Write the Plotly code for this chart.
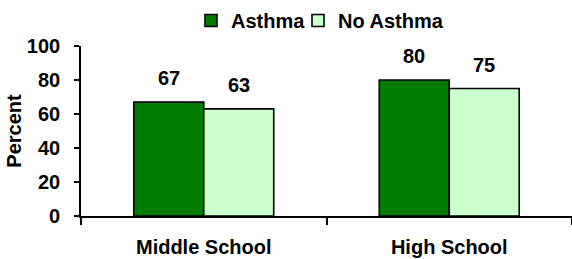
import plotly.graph_objects as go

categories = ["Middle School", "High School"]
asthma = [67, 80]
no_asthma = [63, 75]
series_names = ["Asthma", "No Asthma"]
colors = ["#007C00", "#CCFFCC"]
tick_vals = [0, 20, 40, 60, 80, 100]

FONT = "Liberation Sans, Arial, sans-serif"
FS = 20
W, H = 572, 259

fig = go.Figure()
for name, vals, col, lg in zip(series_names, [asthma, no_asthma], colors, ["legend", "legend2"]):
    fig.add_trace(go.Bar(
        x=categories, y=vals, name=name, legend=lg,
        marker=dict(color=col, line=dict(color="black", width=1.6)),
    ))

# value labels above bars
for vals, off in [(asthma, -0.5), (no_asthma, 0.5)]:
    for c, v in zip(categories, vals):
        fig.add_annotation(
            x=c, y=v, text=str(v), showarrow=False,
            xref="x", yref="y", xshift=off * 70, yshift=24,
            font=dict(family=FONT, size=FS, color="black", weight="bold"),
        )

legend_common = dict(
    orientation="h", xanchor="left", yanchor="top",
    xref="container", yref="container", y=1 - 1 / H,
    font=dict(family=FONT, size=FS, color="black", weight="bold"),
    itemwidth=30, bgcolor="rgba(0,0,0,0)",
)

fig.update_layout(
    width=W, height=H,
    margin=dict(l=81, r=0, t=46, b=43, autoexpand=False),
    paper_bgcolor="white", plot_bgcolor="white",
    barmode="group", bargap=0.43, bargroupgap=0,
    showlegend=True,
    legend=dict(x=191 / W, **legend_common),
    legend2=dict(x=298 / W, **legend_common),
    font=dict(family=FONT, size=FS, color="black", weight="bold"),
)

fig.update_xaxes(
    showline=True, linecolor="black", linewidth=1.6,
    ticks="outside", tickson="boundaries", ticklen=7, tickwidth=1.6, tickcolor="black",
    tickfont=dict(family=FONT, size=FS, color="black", weight="bold"),
    ticklabelstandoff=12,
    showgrid=False, automargin=False,
)
fig.update_yaxes(
    range=[0, 100], tickvals=tick_vals,
    showline=True, linecolor="black", linewidth=1.6,
    ticks="outside", ticklen=5, tickwidth=1.6, tickcolor="black",
    tickfont=dict(family=FONT, size=FS, color="black", weight="bold"),
    ticklabelstandoff=10,
    showgrid=False, zeroline=False, automargin=False,
    title=dict(text="Percent", font=dict(family=FONT, size=FS, color="black", weight="bold"), standoff=0),
)

fig.write_html(
    "out.html",
    config={"displayModeBar": False},
    post_script="document.body.style.margin='0';",
)
